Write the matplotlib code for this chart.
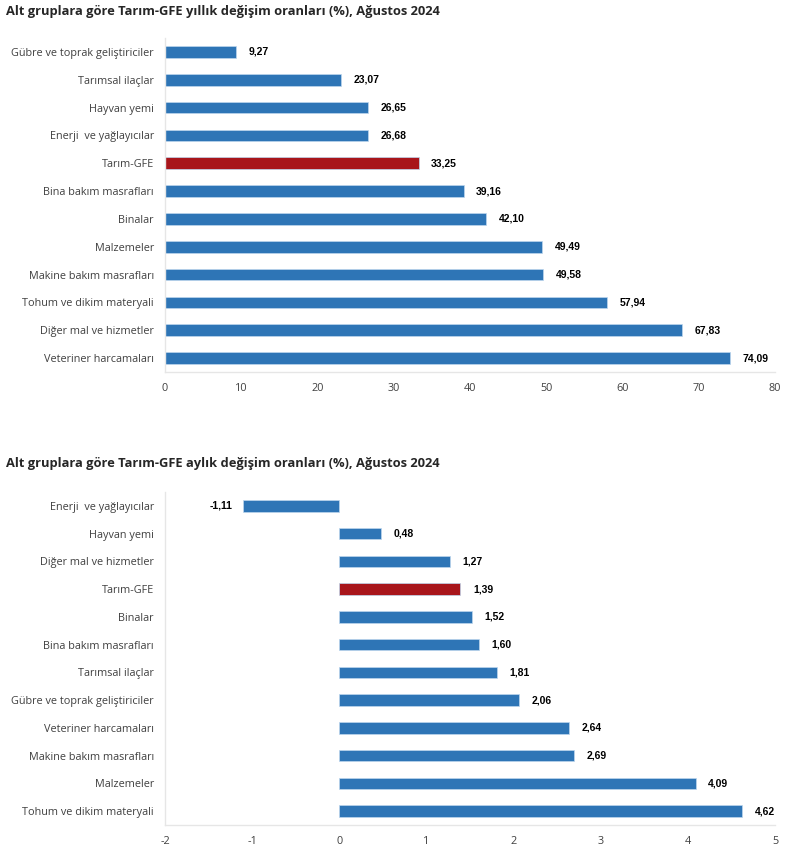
import matplotlib
matplotlib.use("Agg")
import matplotlib.pyplot as plt

plt.rcParams['font.family'] = ['Open Sans', 'DejaVu Sans']

# Annual data
annual_labels = ["Gübre ve toprak geliştiriciler", "Tarımsal ilaçlar", "Hayvan yemi",
                 "Enerji  ve yağlayıcılar", "Tarım-GFE", "Bina bakım masrafları", "Binalar",
                 "Malzemeler", "Makine bakım masrafları", "Tohum ve dikim materyali",
                 "Diğer mal ve hizmetler", "Veteriner harcamaları"]
annual_values = [9.27, 23.07, 26.65, 26.68, 33.25, 39.16, 42.10, 49.49, 49.58, 57.94, 67.83, 74.09]

# Monthly data
monthly_labels = ["Enerji  ve yağlayıcılar", "Hayvan yemi", "Diğer mal ve hizmetler", "Tarım-GFE",
                  "Binalar", "Bina bakım masrafları", "Tarımsal ilaçlar",
                  "Gübre ve toprak geliştiriciler", "Veteriner harcamaları",
                  "Makine bakım masrafları", "Malzemeler", "Tohum ve dikim materyali"]
monthly_values = [-1.11, 0.48, 1.27, 1.39, 1.52, 1.60, 1.81, 2.06, 2.64, 2.69, 4.09, 4.62]

titles = ["Alt gruplara göre Tarım-GFE yıllık değişim oranları (%), Ağustos 2024",
          "Alt gruplara göre Tarım-GFE aylık değişim oranları (%), Ağustos 2024"]
highlight = "Tarım-GFE"

BLUE = "#2E75B6"
RED = "#A8151B"

fig = plt.figure(figsize=(7.95, 8.56), dpi=100)
ax1 = fig.add_axes([0.2075, 0.5654, 0.7675, 0.3902])
ax2 = fig.add_axes([0.2075, 0.0362, 0.7675, 0.3890])

def fmt(v):
    return f"{v:.2f}".replace(".", ",")

def draw(ax, labels, values, xlim, xticks, title, title_y):
    colors = [RED if l == highlight else BLUE for l in labels]
    ys = list(range(len(labels)))
    ax.barh(ys, values, height=0.42, color=colors, edgecolor="#BDD7EE", linewidth=0.5)
    ax.set_ylim(len(labels) - 0.5, -0.5)
    ax.set_xlim(*xlim)
    ax.set_xticks(xticks)
    ax.set_xticklabels([str(t) for t in xticks])
    ax.set_yticks(ys)
    ax.set_yticklabels(labels)
    ax.tick_params(axis='both', length=0, labelsize=7.8, colors="#404040", pad=8)
    ax.tick_params(axis='x', pad=8)
    for s in ["top", "right"]:
        ax.spines[s].set_visible(False)
    for s in ["left", "bottom"]:
        ax.spines[s].set_color("#E6E6E6")
        ax.spines[s].set_linewidth(1)
    for y, v in zip(ys, values):
        if v >= 0:
            ax.annotate(fmt(v), (v, y), xytext=(9, 0), textcoords="offset points",
                        ha="left", va="center", fontsize=7.5, fontweight="bold",
                        family=["Liberation Sans", "DejaVu Sans"], color="black")
        else:
            ax.annotate(fmt(v), (v, y), xytext=(-7, 0), textcoords="offset points",
                        ha="right", va="center", fontsize=7.5, fontweight="bold",
                        family=["Liberation Sans", "DejaVu Sans"], color="black")
    fig.text(0.007, title_y, title, fontsize=9.3, fontweight="bold", color="#262626",
             ha="left", va="center")

draw(ax1, annual_labels, annual_values, (0, 80), list(range(0, 81, 10)), titles[0], 1 - 12/856)
draw(ax2, monthly_labels, monthly_values, (-2, 5), list(range(-2, 6)), titles[1], 1 - 463/856)

fig.savefig("out.png", dpi=100, facecolor="white")
